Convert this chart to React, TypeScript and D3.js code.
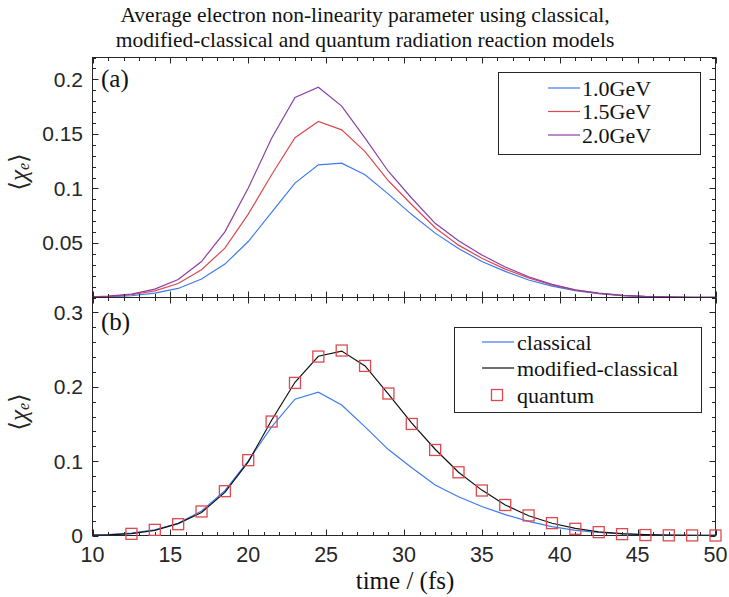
import React from "react";
import * as d3 from "d3";

const times = [9.5, 11, 12.5, 14, 15.5, 17, 18.5, 20, 21.5, 23, 24.5, 26, 27.5, 29, 30.5, 32, 33.5, 35, 36.5, 38, 39.5, 41, 42.5, 44, 45.5, 47, 48.5, 50];
const gev10 = [0.0002, 0.0006, 0.0016, 0.004, 0.0083, 0.0169, 0.0306, 0.0513, 0.078, 0.1049, 0.1216, 0.1232, 0.1125, 0.0948, 0.076, 0.059, 0.045, 0.033, 0.024, 0.016, 0.0105, 0.0063, 0.0035, 0.0018, 0.0008, 0.0004, 0.0002, 0.0001];
const gev15 = [0.0003, 0.001, 0.0025, 0.0061, 0.0128, 0.0254, 0.0453, 0.0764, 0.1125, 0.1464, 0.1613, 0.1537, 0.1338, 0.107, 0.085, 0.064, 0.048, 0.036, 0.026, 0.018, 0.0115, 0.0068, 0.0038, 0.0019, 0.0009, 0.0004, 0.0002, 0.0001];
const gev20 = [0.0004, 0.0012, 0.0031, 0.0077, 0.0165, 0.033, 0.0602, 0.1003, 0.146, 0.1833, 0.1928, 0.1754, 0.146, 0.1155, 0.091, 0.068, 0.052, 0.039, 0.028, 0.019, 0.012, 0.007, 0.004, 0.002, 0.001, 0.0005, 0.0002, 0.0001];
const classical = [0.0004, 0.0012, 0.0031, 0.0077, 0.0165, 0.033, 0.0602, 0.1003, 0.146, 0.1833, 0.1928, 0.1754, 0.146, 0.1155, 0.091, 0.068, 0.052, 0.039, 0.028, 0.019, 0.012, 0.007, 0.004, 0.002, 0.001, 0.0005, 0.0002, 0.0001];
const modifiedClassical = [0.0003, 0.0008, 0.0025, 0.007, 0.016, 0.031, 0.058, 0.099, 0.155, 0.206, 0.241, 0.248, 0.228, 0.19, 0.151, 0.116, 0.085, 0.061, 0.041, 0.0265, 0.0165, 0.0095, 0.005, 0.0025, 0.0012, 0.0005, 0.0002, 0.0001];
const quantumTimes = [12.5, 14, 15.5, 17, 18.5, 20, 21.5, 23, 24.5, 26, 27.5, 29, 30.5, 32, 33.5, 35, 36.5, 38, 39.5, 41, 42.5, 44, 45.5, 47, 48.5, 50];
const quantum = [0.0022, 0.0076, 0.0152, 0.0323, 0.0596, 0.1013, 0.1532, 0.2052, 0.2406, 0.2487, 0.228, 0.1909, 0.15, 0.115, 0.085, 0.0605, 0.041, 0.027, 0.0166, 0.009, 0.0045, 0.0018, 0.0006, 0.0002, 0.0001, 0];

const xTicks = [10, 15, 20, 25, 30, 35, 40, 45, 50];
const topYTicks = [0.05, 0.1, 0.15, 0.2];
const bottomYTicks = [0, 0.1, 0.2, 0.3];
const topLegend = ["1.0GeV", "1.5GeV", "2.0GeV"];
const bottomLegend = ["classical", "modified-classical", "quantum"];
const titleLines = [
  "Average electron non-linearity parameter using classical,",
  "modified-classical and quantum radiation reaction models",
];

const BLUE = "#3d7bef";
const RED = "#dc4a4f";
const PURPLE = "#8b3fa6";
const AX = "#262626";
const SERIF = "'Liberation Serif', 'DejaVu Serif', serif";
const SANS = "'Liberation Sans', Arial, sans-serif";

const X0 = 92.5, X1 = 715.5;
const TOP0 = 57.5, MID = 297.5, BOT = 535.5;

const x = d3.scaleLinear().domain([10, 50]).range([X0, X1]);
const yTop = d3.scaleLinear().domain([0, 0.22]).range([MID, TOP0]);
const yBot = d3.scaleLinear().domain([0, 0.32]).range([BOT, MID]);

function Panel({ y, yTicks, minorStep, y0, y1, clipId, children, tickLabelFmt }: any) {
  const xMinor = d3.range(10, 50.001, 1);
  const yMinor = d3.range(0, y.domain()[1] + 1e-9, minorStep);
  const majL = 6, minL = 3.5;
  const isMajX = (v: number) => xTicks.some((t) => Math.abs(t - v) < 1e-6);
  return (
    <g>
      <defs>
        <clipPath id={clipId}>
          <rect x={X0} y={y1} width={X1 - X0} height={y0 - y1} />
        </clipPath>
      </defs>
      <rect x={X0} y={y1} width={X1 - X0} height={y0 - y1} fill="white" />
      <g clipPath={`url(#${clipId})`}>{children}</g>
      {xMinor.map((v: number) => {
        const L = isMajX(v) ? majL : minL;
        const px = Math.round(x(v)) + 0.5;
        return (
          <g key={"xt" + v} stroke={AX} strokeWidth={1}>
            <line x1={px} x2={px} y1={y0} y2={y0 - L} />
            <line x1={px} x2={px} y1={y1} y2={y1 + L} />
          </g>
        );
      })}
      {yMinor.map((v: number) => {
        const r = v / (minorStep * 5);
        const L = Math.abs(r - Math.round(r)) < 1e-6 ? majL : minL;
        const py = Math.round(y(v)) + 0.5;
        return (
          <g key={"yt" + v} stroke={AX} strokeWidth={1}>
            <line x1={X0} x2={X0 + L} y1={py} y2={py} />
            <line x1={X1} x2={X1 - L} y1={py} y2={py} />
          </g>
        );
      })}
      {yTicks.map((v: number) => (
        <text key={"yl" + v} x={83} y={y(v)} textAnchor="end" dominantBaseline="central" fontFamily={SANS} fontSize={21} fill={AX}>
          {tickLabelFmt(v)}
        </text>
      ))}
      <rect x={X0} y={y1} width={X1 - X0} height={y0 - y1} fill="none" stroke={AX} strokeWidth={1} />
    </g>
  );
}

function YLabel({ cx, cy }: any) {
  return (
    <text transform={`translate(${cx},${cy}) rotate(-90)`} textAnchor="middle" dominantBaseline="central" fontFamily={SERIF} fontSize={25} fill={AX}>
      <tspan>⟨</tspan>
      <tspan fontStyle="italic">χ</tspan>
      <tspan fontStyle="italic" fontSize={16} dy={5}>e</tspan>
      <tspan dy={-5}>⟩</tspan>
    </text>
  );
}

export default function App() {
  const lineTop = (vals: number[]) =>
    d3.line<number>().x((_, i) => x(times[i])).y((d) => yTop(d))(vals) as string;
  const lineBot = (vals: number[]) =>
    d3.line<number>().x((_, i) => x(times[i])).y((d) => yBot(d))(vals) as string;
  const fmt = (v: number) => (v === 0 ? "0" : String(+v.toFixed(2)));
  const topColors = [BLUE, RED, PURPLE];
  const topSeries = [gev10, gev15, gev20];
  const legendTopRows = [88, 111.5, 135];
  const legendBotRows = [342, 368, 395];
  const sq = 11;

  return (
    <svg width={729} height={597} style={{ position: "absolute", left: 0, top: 0, background: "white" }}>
      <rect width={729} height={597} fill="white" />
      {titleLines.map((t, i) => (
        <text key={i} x={365} y={22 + i * 25} textAnchor="middle" fontFamily={SERIF} fontSize={21.5} fill="#111">
          {t}
        </text>
      ))}

      <Panel y={yTop} yTicks={topYTicks} minorStep={0.01} y0={MID} y1={TOP0} clipId="clipTop" tickLabelFmt={fmt}>
        {topSeries.map((s, i) => (
          <path key={i} d={lineTop(s)} fill="none" stroke={topColors[i]} strokeWidth={1.2} />
        ))}
      </Panel>

      <Panel y={yBot} yTicks={bottomYTicks} minorStep={0.02} y0={BOT} y1={MID} clipId="clipBot" tickLabelFmt={fmt}>
        <path d={lineBot(classical)} fill="none" stroke={BLUE} strokeWidth={1.2} />
        <path d={lineBot(modifiedClassical)} fill="none" stroke="#111" strokeWidth={1.2} />
      </Panel>
      {quantum.map((v, i) => (
        <rect key={"q" + i} x={x(quantumTimes[i]) - sq / 2} y={yBot(v) - sq / 2} width={sq} height={sq} fill="none" stroke={RED} strokeWidth={1.3} />
      ))}

      <text x={101} y={78} dominantBaseline="central" fontFamily={SERIF} fontSize={25} fill="#111">(a)</text>
      <text x={101} y={321} dominantBaseline="central" fontFamily={SERIF} fontSize={25} fill="#111">(b)</text>

      <rect x={498.5} y={72.5} width={202} height={82} fill="white" stroke={AX} strokeWidth={1} />
      {topLegend.map((l, i) => (
        <g key={l}>
          <line x1={548} x2={580} y1={legendTopRows[i]} y2={legendTopRows[i]} stroke={topColors[i]} strokeWidth={1.2} />
          <text x={582} y={legendTopRows[i]} dominantBaseline="central" fontFamily={SERIF} fontSize={22} fill="#111">{l}</text>
        </g>
      ))}

      <rect x={454.5} y={327.5} width={247} height={85} fill="white" stroke={AX} strokeWidth={1} />
      <line x1={482} x2={514} y1={legendBotRows[0]} y2={legendBotRows[0]} stroke={BLUE} strokeWidth={1.2} />
      <line x1={482} x2={514} y1={legendBotRows[1]} y2={legendBotRows[1]} stroke="#111" strokeWidth={1.2} />
      <rect x={497 - sq / 2} y={legendBotRows[2] - sq / 2} width={sq} height={sq} fill="none" stroke={RED} strokeWidth={1.3} />
      {bottomLegend.map((l, i) => (
        <text key={l} x={517} y={legendBotRows[i]} dominantBaseline="central" fontFamily={SERIF} fontSize={22} fill="#111">{l}</text>
      ))}

      {xTicks.map((t) => (
        <text key={"xl" + t} x={x(t)} y={555} textAnchor="middle" dominantBaseline="central" fontFamily={SANS} fontSize={21.5} fill={AX}>
          {t}
        </text>
      ))}
      <text x={405} y={580} textAnchor="middle" dominantBaseline="central" fontFamily={SERIF} fontSize={25} fill="#111">time / (fs)</text>

      <YLabel cx={18} cy={172} />
      <YLabel cx={18} cy={412} />
    </svg>
  );
}
